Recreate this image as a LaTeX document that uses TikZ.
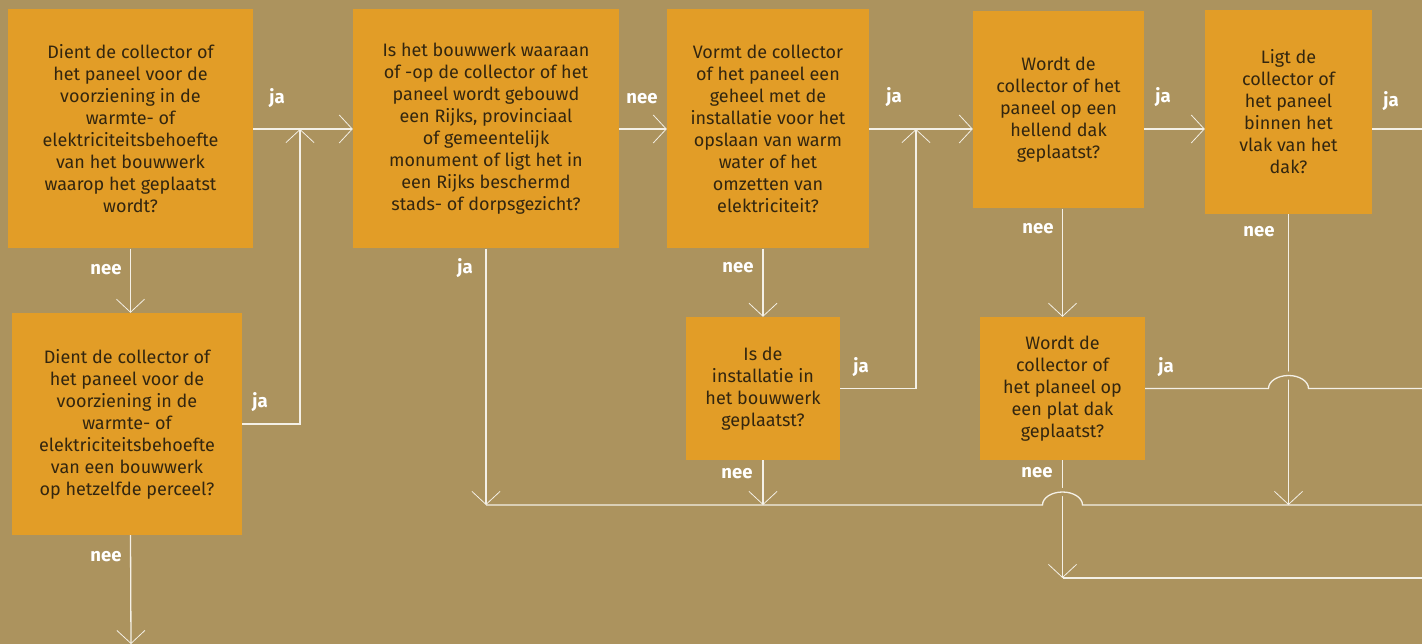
\documentclass[tikz,border=0pt]{standalone}
\usepackage{fontspec}
\setmainfont{Fira Sans}
\usepackage{tikz}
\usetikzlibrary{arrows.meta,calc}

\definecolor{achtergrond}{HTML}{AC935E}
\definecolor{vak}{HTML}{E29D27}
\definecolor{tekst}{HTML}{33260F}
\definecolor{lijnkleur}{HTML}{F4F0E6}

\begin{document}
\begin{tikzpicture}[x=1pt,y=-1pt,
                    >={Straight Barb[length=13pt,width=28pt,line width=0.8pt]}]
  \tikzstyle{vraag}=[fill=vak,draw=none,text=tekst,align=center,inner sep=0pt,
                     font=\fontsize{18}{22}\selectfont]
  \tikzstyle{antw}=[text=white,anchor=base,inner sep=0pt,
                    font=\bfseries\fontsize{18.5}{20}\selectfont]
  \tikzstyle{lijn}=[draw=lijnkleur,line width=1.3pt]
  \tikzstyle{pijl}=[lijn,->]
  \tikzstyle{halo}=[draw=achtergrond,line width=8pt]

  \fill[achtergrond] (0,0) rectangle (1422,644);
  \useasboundingbox (0,0) rectangle (1422,644);

  % vragen
  \node[vraag,minimum width=245pt,minimum height=239pt] (b1) at (130.5,129)
    {Dient de collector of\\het paneel voor de\\voorziening in de\\warmte- of\\elektriciteitsbehoefte\\van het bouwwerk\\waarop het geplaatst\\wordt?};
  \node[vraag,minimum width=230pt,minimum height=222pt] (b2) at (127,424)
    {Dient de collector of\\het paneel voor de\\voorziening in de\\warmte- of\\elektriciteitsbehoefte\\van een bouwwerk\\op hetzelfde perceel?};
  \node[vraag,minimum width=266pt,minimum height=239pt] (b3) at (486,129)
    {Is het bouwwerk waaraan\\of -op de collector of het\\paneel wordt gebouwd\\een Rijks, provinciaal\\of gemeentelijk\\monument of ligt het in\\een Rijks beschermd\\stads- of dorpsgezicht?};
  \node[vraag,minimum width=202pt,minimum height=239pt] (b4) at (768,129)
    {Vormt de collector\\of het paneel een\\geheel met de\\installatie voor het\\opslaan van warm\\water of het\\omzetten van\\elektriciteit?};
  \node[vraag,minimum width=154pt,minimum height=143pt] (b5) at (763,388.5)
    {Is de\\installatie in\\het bouwwerk\\geplaatst?};
  \node[vraag,minimum width=171pt,minimum height=197pt] (b6) at (1058.5,110)
    {Wordt de\\collector of het\\paneel op een\\hellend dak\\geplaatst?};
  \node[vraag,minimum width=165pt,minimum height=143pt] (b7) at (1062.5,388.5)
    {Wordt de\\collector of\\het planeel op\\een plat dak\\geplaatst?};
  \node[vraag,minimum width=167pt,minimum height=204pt] (b8) at (1288.5,112)
    {Ligt de\\collector of\\het paneel\\binnen het\\vlak van het\\dak?};

  % hulppunten
  \coordinate (j1) at (300,129);
  \coordinate (j2) at (916,129);
  \coordinate (h1) at (486,505);
  \coordinate (h3) at (1062.5,578);
  \coordinate (rechts) at (1422,0);
  \coordinate (onder) at (131,644);

  % verbindingen
  \path (b1) edge[pijl] (b3)
        (b3) edge[pijl] (b4)
        (b4.east) edge[pijl] (b4.east -| b6.west)
        (b4.east -| b6.east) edge[pijl] (b4.east -| b8.west)
        (b4.east -| b8.east) edge[lijn] (b4.east -| rechts)
        (b1.south) edge[pijl] (b1.south |- b2.north)
        (b1.south |- b2.south) edge[pijl] (onder)
        (b3.south) edge[pijl] (h1)
        (b4.south -| b5.north) edge[pijl] (b5.north)
        (b5.south) edge[pijl] (b5.south |- h1)
        (b6.south -| b7.north) edge[pijl] (b7.north)
        (b8.south) edge[pijl] (b8.south |- h1)
        (b7.south) edge[pijl] (h3);
  \draw[pijl] (b2.east) -| (j1);
  \draw[pijl] (b5.east) -| (j2);

  % lijnen met sprong
  \draw[halo] ($(b8.south |- b7.east)+(-20,0)$)
    arc[start angle=180,end angle=360,x radius=20,y radius=13];
  \draw[lijn] (b7.east) -- ($(b8.south |- b7.east)+(-20,0)$)
    arc[start angle=180,end angle=360,x radius=20,y radius=13] -- (b7.east -| rechts);
  \draw[halo] ($(b7.south |- h1)+(-20,0)$)
    arc[start angle=180,end angle=360,x radius=20,y radius=13];
  \draw[lijn] (h1) -- ($(b7.south |- h1)+(-20,0)$)
    arc[start angle=180,end angle=360,x radius=20,y radius=13] -- (h1 -| rechts);
  \draw[lijn] (h3) -- (h3 -| rechts);

  % antwoorden
  \node[antw] (a1) at (277,104) {ja};
  \node[antw] (a2) at (260,407) {ja};
  \node[antw] (a3) at (106,275) {nee};
  \node[antw] (a4) at (106,561) {nee};
  \node[antw] (a5) at (642,104) {nee};
  \node[antw] (a6) at (465,274) {ja};
  \node[antw] (a7) at (894,103) {ja};
  \node[antw] (a8) at (738,273) {nee};
  \node[antw] (a9) at (861,372) {ja};
  \node[antw] (a10) at (737,478) {nee};
  \node[antw] (a11) at (1163,103) {ja};
  \node[antw] (a12) at (1038,234) {nee};
  \node[antw] (a13) at (1391,107) {ja};
  \node[antw] (a14) at (1259,237) {nee};
  \node[antw] (a15) at (1166,372) {ja};
  \node[antw] (a16) at (1037,477) {nee};
\end{tikzpicture}
\end{document}
